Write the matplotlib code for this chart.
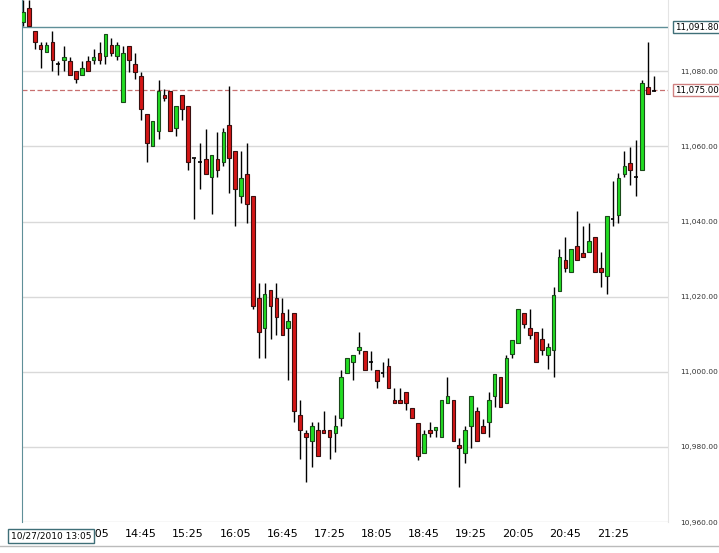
import matplotlib
matplotlib.use("Agg")
import matplotlib.pyplot as plt
import numpy as np

opens = [11093.1,11096.8,11090.8,11087.0,11085.1,11087.8,11082.0,11083.0,11082.8,11080.0,
11079.0,11082.8,11083.0,11084.8,11084.0,11087.0,11084.0,11071.8,11086.8,11081.9,
11078.8,11068.6,11060.0,11064.0,11073.8,11074.7,11065.0,11073.8,11070.8,11056.9,
11055.8,11056.7,11051.9,11056.7,11055.9,11065.8,11058.9,11046.8,11052.7,11046.7,
11019.6,11011.6,11021.7,11019.6,11015.6,11011.6,11015.6,10988.6,10983.6,10981.6,
10984.6,10984.6,10984.6,10983.6,10987.6,10999.7,11002.6,11005.7,11005.5,11002.6,
11000.6,10999.8,11001.5,10992.5,10992.5,10994.6,10990.4,10986.4,10978.5,10984.6,
10984.6,10982.7,10991.7,10992.6,10980.5,10978.5,10985.6,10989.6,10985.6,10986.7,
10993.6,10998.6,10991.7,11004.8,11007.7,11015.6,11011.7,11010.6,11008.7,11004.6,
11005.7,11021.6,11029.7,11026.7,11033.6,11031.5,11031.8,11035.8,11027.6,11025.6,
11040.8,11041.7,11052.7,11055.7,11051.8,11053.8,11075.8,11074.8]
highs = [11099.0,11099.0,11090.8,11087.9,11087.9,11090.8,11082.8,11086.8,11083.8,11080.0,
11082.8,11084.0,11085.9,11087.8,11089.9,11088.9,11087.9,11086.8,11086.8,11084.9,
11079.9,11068.6,11066.8,11077.8,11075.4,11074.7,11070.8,11073.8,11070.8,11056.9,
11060.8,11064.7,11057.8,11063.8,11064.8,11076.0,11058.9,11058.9,11060.8,11046.7,
11023.6,11023.6,11021.7,11023.6,11019.6,11016.7,11015.6,10992.6,10984.6,10986.7,
10986.7,10989.6,10984.6,10988.6,11000.6,11003.7,11004.5,11010.6,11005.5,11005.5,
11000.6,11002.6,11003.6,10995.7,10995.7,10994.6,10990.4,10986.4,10984.5,10986.5,
10985.4,10992.6,10998.6,10992.6,10982.5,10985.5,10993.6,10990.5,10987.5,10994.6,
10999.5,10998.6,11004.5,11008.4,11016.6,11015.6,11016.6,11010.6,11011.7,11007.6,
11022.6,11032.7,11035.8,11032.6,11042.7,11038.7,11039.7,11035.8,11031.8,11041.5,
11050.8,11052.8,11058.7,11059.8,11061.8,11077.7,11087.9,11078.8]
lows = [11092.0,11092.0,11085.9,11080.8,11085.1,11080.0,11079.0,11080.0,11079.0,11076.9,
11079.0,11080.0,11082.0,11082.0,11082.0,11084.0,11083.0,11071.8,11079.9,11077.9,
11067.0,11055.8,11060.0,11061.9,11072.0,11064.0,11062.8,11067.0,11053.8,11040.8,
11048.8,11052.7,11041.9,11051.8,11054.9,11047.7,11038.8,11044.9,11039.7,11016.6,
11003.7,11003.7,11008.8,11009.7,11009.7,10997.7,10986.7,10976.7,10970.6,10974.6,
10977.7,10983.6,10976.7,10978.7,10985.6,10999.7,10997.7,11004.8,11000.6,11000.6,
10995.7,10998.6,10995.7,10991.8,10991.8,10989.8,10987.7,10976.5,10978.5,10982.7,
10982.7,10982.7,10991.7,10981.6,10969.4,10975.6,10979.6,10981.6,10983.6,10982.7,
10990.5,10990.7,10991.7,11003.7,11007.7,11011.7,11008.8,11002.6,11004.6,11000.8,
10998.6,11021.6,11026.7,11026.7,11029.7,11030.6,11031.8,11026.7,11022.6,11020.7,
11038.8,11039.7,11051.8,11049.7,11046.8,11053.8,11074.0,11074.8]
closes = [11095.9,11092.1,11087.9,11085.9,11087.0,11083.0,11082.0,11083.8,11079.0,11077.9,
11080.9,11080.0,11083.8,11083.0,11089.9,11084.8,11087.0,11084.8,11083.0,11079.9,
11070.0,11061.0,11066.8,11074.7,11072.9,11064.0,11070.8,11070.0,11055.9,11056.9,
11055.8,11052.7,11057.8,11053.8,11063.9,11057.0,11048.8,11051.7,11044.8,11017.6,
11010.6,11020.6,11017.6,11014.7,11009.7,11013.6,10989.6,10984.6,10982.6,10985.6,
10977.7,10983.6,10982.6,10985.6,10998.6,11003.7,11004.5,11006.6,11000.6,11002.6,
10997.6,10999.8,10995.7,10991.8,10991.8,10991.8,10987.7,10977.7,10983.4,10983.7,
10985.4,10992.6,10993.6,10981.6,10979.6,10984.6,10993.6,10981.6,10983.6,10992.6,
10999.5,10990.7,11003.7,11008.4,11016.6,11012.7,11009.7,11002.6,11005.7,11006.6,
11020.5,11030.6,11027.7,11032.6,11029.7,11030.6,11034.7,11026.7,11026.7,11041.5,
11040.8,11051.7,11054.7,11053.7,11051.8,11076.9,11074.0,11074.8]
tick_idx = [12,20,28,36,44,52,60,68,76,84,92,100]
tick_labels = ["14:05","14:45","15:25","16:05","16:45","17:25","18:05","18:45","19:25","20:05","20:45","21:25"]
y_ticks = [10960,10980,11000,11020,11040,11060,11080]
high_mark = 11091.80
last_mark = 11075.00
start_label = "10/27/2010 13:05"

W, H = 719, 553
fig = plt.figure(figsize=(W/100, H/100), dpi=100)
ax = fig.add_axes([22/W, 31/H, (668-22)/W, 522/H])
x = np.arange(len(opens))
o = np.array(opens); c = np.array(closes); hi = np.array(highs); lo = np.array(lows)

for yv in y_ticks:
    ax.axhline(yv, color="#d9d9d9", lw=1, zorder=0)
ax.axhline(high_mark, color="#5f8f98", lw=1, zorder=1)
ax.axhline(last_mark, color="#c87070", lw=0.9, ls=(0, (4, 2)), zorder=1)

ax.vlines(x, lo, hi, color="black", lw=1, zorder=2)
up = c > o
dn = c < o
dj = c == o
ax.bar(x[up], (c - o)[up], bottom=o[up], width=0.62, color="#22dd22", edgecolor="#1a4a1a", lw=0.8, zorder=3)
ax.bar(x[dn], (o - c)[dn], bottom=c[dn], width=0.62, color="#d41616", edgecolor="#3a1010", lw=0.8, zorder=3)
ax.hlines(c[dj], x[dj] - 0.3, x[dj] + 0.3, color="black", lw=1.2, zorder=3)

ax.set_xlim(-0.15, 109.4)
ax.set_ylim(10960.3, 11099)
ax.set_xticks(tick_idx)
ax.set_xticklabels(tick_labels, fontsize=8, family="DejaVu Sans")
ax.tick_params(axis="x", length=0, pad=5)
ax.yaxis.tick_right()
ax.set_yticks(y_ticks)
ax.set_yticklabels([f"{v:,.2f}" for v in y_ticks], fontsize=5.3, color="#333333")
ax.tick_params(axis="y", length=0, pad=9)
for s in ["top", "bottom"]:
    ax.spines[s].set_visible(False)
ax.spines["left"].set_color("#5f8f98")
ax.spines["right"].set_color("#e4e4e4")

ax.annotate(f"{high_mark:,.2f}", xy=(1.0, high_mark), xycoords=("axes fraction", "data"),
            xytext=(5, 0), textcoords="offset points", va="center", ha="left", fontsize=6.2,
            bbox=dict(boxstyle="square,pad=0.2", fc="white", ec="#3f6f78", lw=1))
ax.annotate(f"{last_mark:,.2f}", xy=(1.0, last_mark), xycoords=("axes fraction", "data"),
            xytext=(5, 0), textcoords="offset points", va="center", ha="left", fontsize=6.2,
            bbox=dict(boxstyle="square,pad=0.2", fc="white", ec="#d08080", lw=1))
fig.text(11/W, 1 - 536/H, start_label, fontsize=6.5, va="center", ha="left",
         bbox=dict(boxstyle="square,pad=0.3", fc="white", ec="#3f6f78", lw=1))
fig.add_artist(plt.Line2D([0, 1], [1 - 546/H, 1 - 546/H], color="#bbbbbb", lw=1))
fig.savefig("out.png", dpi=100)
